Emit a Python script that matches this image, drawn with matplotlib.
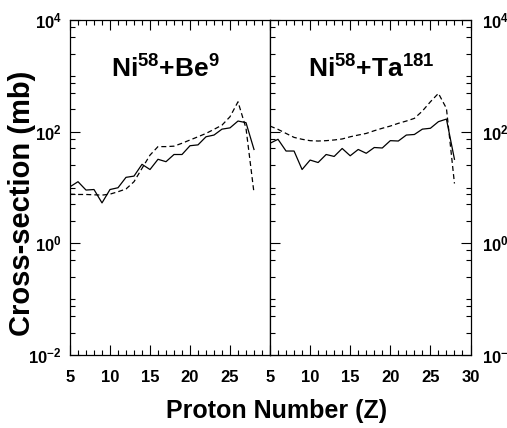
import numpy as np
import matplotlib
matplotlib.use("Agg")
import matplotlib.pyplot as plt
from matplotlib.ticker import MultipleLocator, NullFormatter, FixedLocator

plt.rcParams['font.family'] = ['Liberation Sans', 'DejaVu Sans']
plt.rcParams['font.weight'] = 'bold'
plt.rcParams['mathtext.fontset'] = 'custom'
plt.rcParams['mathtext.rm'] = 'Liberation Sans:bold'
plt.rcParams['mathtext.bf'] = 'Liberation Sans:bold'
plt.rcParams['mathtext.it'] = 'Liberation Sans:bold'

# proton number
z = np.arange(5, 29)

# Ni58 + Be9
be_solid = [10.3, 12.7, 9.0, 9.2, 5.3, 9.2, 9.9, 15.2, 16, 26, 21, 32,
            29, 39, 39, 56, 58, 81, 87, 111, 117, 155, 145, 48]
be_dash = [7.6, 7.5, 7.5, 7.4, 7.3, 7.6, 8.4, 9.4, 12.7, 22, 38, 54,
           54, 55, 62, 71, 81, 93, 110, 131, 185, 343, 115, 8.0]

# Ni58 + Ta181
ta_solid = [62, 73, 45, 45, 21, 31, 28, 39, 36, 50, 37, 48,
            41, 52, 51, 69, 68, 87, 89, 111, 115, 151, 168, 32]
ta_dash = [126, 110, 93, 79, 73, 69, 68, 69, 71, 74, 81, 87,
           93, 104, 115, 126, 141, 155, 173, 234, 343, 485, 261, 11.8]

titles = [r'$\mathrm{Ni}^{58}\mathrm{+Be}^{9}$', r'$\mathrm{Ni}^{58}\mathrm{+Ta}^{181}$']
yticks = [1e-2, 1, 1e2, 1e4]
ytick_labels = [r'$10^{-2}$', r'$10^{0}$', r'$10^{2}$', r'$10^{4}$']
minor_y = [m * 10.0 ** e for e in range(-2, 4) for m in (2.5, 5, 7.5)] + \
          [10.0 ** e for e in (-1, 1, 3)]

W, H = 507, 428
fig = plt.figure(figsize=(W / 100, H / 100), dpi=100)
ax1 = fig.add_axes([70 / W, 1 - 355 / H, 200 / W, 335 / H])
ax2 = fig.add_axes([270 / W, 1 - 355 / H, 200.5 / W, 335 / H])

data = [(be_solid, be_dash), (ta_solid, ta_dash)]
title_x = [165, 371]
for i, ax in enumerate([ax1, ax2]):
    solid, dash = data[i]
    ax.plot(z, solid, color='black', lw=0.9)
    ax.plot(z, dash, color='black', lw=0.9, linestyle=(0, (4, 2.5)))
    ax.set_yscale('log')
    ax.set_xlim(5, 30)
    ax.set_ylim(1e-2, 1e4)
    ax.set_yticks(yticks)
    ax.set_yticklabels(ytick_labels)
    ax.yaxis.set_minor_locator(FixedLocator(minor_y))
    ax.yaxis.set_minor_formatter(NullFormatter())
    ax.xaxis.set_major_locator(MultipleLocator(5))
    ax.xaxis.set_minor_locator(MultipleLocator(1))
    for s in ax.spines.values():
        s.set_linewidth(0.9)
    ax.tick_params(which='both', direction='in', width=0.8, labelsize=12, top=True)
    ax.tick_params(which='major', length=7)
    ax.tick_params(which='minor', length=3.5)
    ax.tick_params(axis='x', pad=11)
    fig.text(title_x[i] / W, 1 - 78 / H, titles[i], ha='center', va='baseline', fontsize=19)

ax1.set_xticks([5, 10, 15, 20, 25])
ax1.tick_params(axis='y', which='both', left=True, right=False, pad=6)
ax2.set_xticks([5, 10, 15, 20, 25, 30])
ax2.tick_params(axis='y', which='both', left=True, right=True, labelleft=False,
                labelright=True, pad=8)

fig.text(277 / W, 1 - 411 / H, 'Proton Number (Z)', ha='center', va='center',
         fontsize=18, fontweight='bold')
fig.text(22 / W, 1 - 203 / H, 'Cross-section (mb)', ha='center', va='center',
         rotation=90, fontsize=21, fontweight='bold')

fig.savefig('out.png', dpi=100)
